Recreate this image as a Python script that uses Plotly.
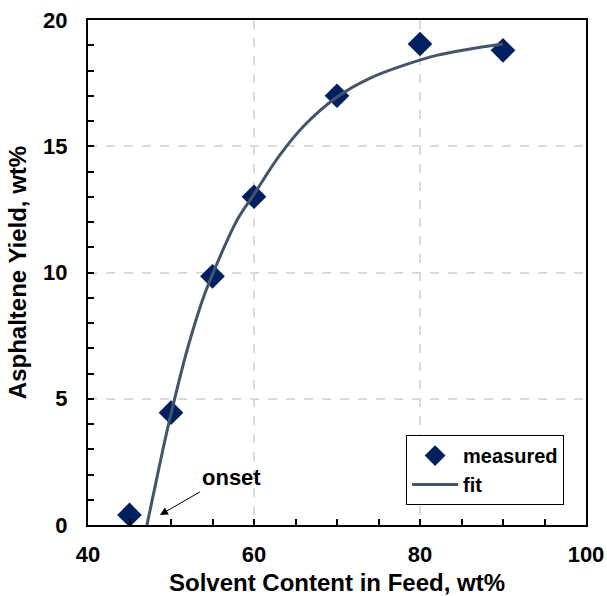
import plotly.graph_objects as go

# Measured asphaltene yield vs. solvent content
solvent_measured = [45, 50, 55, 60, 70, 80, 90]
yield_measured = [0.4, 4.45, 9.85, 13.0, 17.0, 19.05, 18.8]

# Fitted curve, sampled along its length
solvent_fit = [47.1, 48, 49, 50, 52, 54, 56, 58, 60, 63, 66, 70, 74, 78, 82, 86, 90]
yield_fit = [0.0, 1.4, 2.95, 4.4, 7.0, 9.1, 10.7, 12.1, 13.1, 14.6, 15.8, 16.95,
             17.7, 18.2, 18.6, 18.85, 19.05]

x_ticks = [40, 60, 80, 100]
y_ticks = [0, 5, 10, 15, 20]

FONT = "Liberation Sans, Arial, sans-serif"

fig = go.Figure()
fig.add_trace(go.Scatter(
    x=solvent_measured, y=yield_measured, mode="markers", name="measured",
    marker=dict(symbol="diamond", size=19, color="#002060",
                line=dict(width=0)),
))
fig.add_trace(go.Scatter(
    x=solvent_fit, y=yield_fit, mode="lines", name="fit",
    line=dict(color="#44546A", width=3, shape="spline", smoothing=1.0),
))

axis_common = dict(
    showline=True, linecolor="black", linewidth=2, mirror=True,
    ticks="inside", ticklen=6, tickwidth=1.5, tickcolor="black",
    showgrid=True, gridcolor="#d9d9d9", gridwidth=1.5, griddash="dash",
    zeroline=False, automargin=False,
    tickfont=dict(family=FONT, size=22, color="black", weight="bold"),
)

fig.update_xaxes(
    range=[40, 100], tickvals=x_ticks, ticktext=[str(v) for v in x_ticks],
    minor=dict(dtick=5, tick0=40, ticks="inside", ticklen=6, tickwidth=1.5,
               tickcolor="black", showgrid=False),
    title=dict(text="<b>Solvent Content in Feed, wt%</b>", standoff=8,
               font=dict(family=FONT, size=24, color="black")),
    ticklabelstandoff=9,
    **axis_common,
)
fig.update_yaxes(
    range=[0, 20], tickvals=y_ticks, ticktext=[str(v) for v in y_ticks],
    minor=dict(dtick=1, tick0=0, ticks="inside", ticklen=6, tickwidth=1.5,
               tickcolor="black", showgrid=False),
    title=dict(text="<b>Asphaltene Yield, wt%</b>", standoff=10,
               font=dict(family=FONT, size=24, color="black")),
    ticklabelstandoff=14,
    **axis_common,
)

fig.add_annotation(
    x=48.67, y=0.4, xref="x", yref="y",
    text="<b>onset</b>", font=dict(family=FONT, size=22, color="black"),
    showarrow=True, arrowhead=2, arrowsize=1.6, arrowwidth=1, arrowcolor="black",
    ax=40, ay=-23, xanchor="left", yanchor="bottom",
)

fig.update_layout(
    width=607, height=596,
    margin=dict(l=88, r=21, t=20, b=71),
    plot_bgcolor="white", paper_bgcolor="white",
    showlegend=True,
    legend=dict(
        x=0.956, y=0.178, xanchor="right", yanchor="top",
        bordercolor="black", borderwidth=1, bgcolor="white",
        font=dict(family=FONT, size=20, color="black", weight="bold"),
        tracegroupgap=0, itemwidth=46,
    ),
)

fig.write_html("out.html")
